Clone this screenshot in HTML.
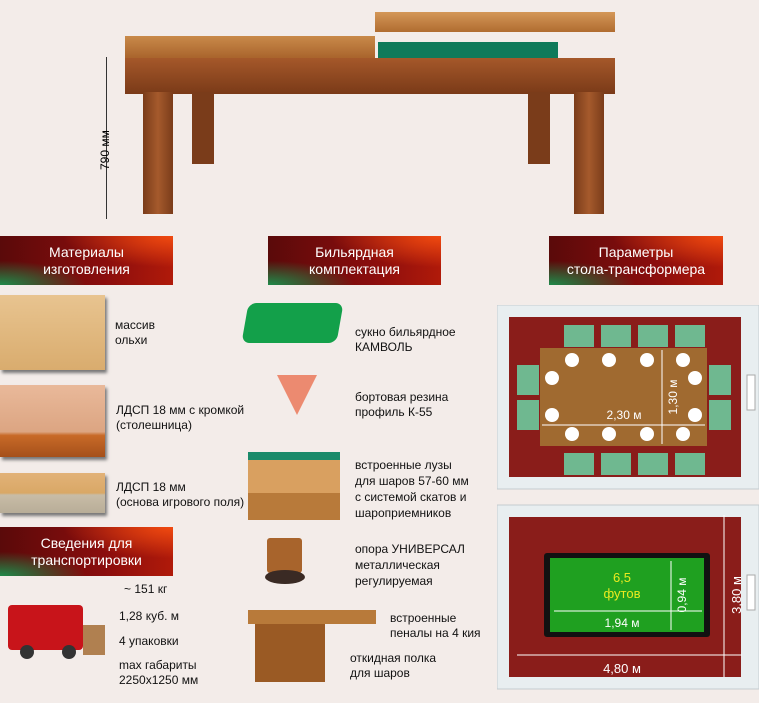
<!DOCTYPE html>
<html><head><meta charset="utf-8"><style>
body{margin:0;width:759px;height:703px;background:#f3ece9;position:relative;overflow:hidden;font-family:"Liberation Sans",Arial,sans-serif;}
.a{position:absolute}
.h{position:absolute;height:49px;width:173px;color:#fff;font-size:14px;line-height:17px;text-align:center;display:flex;align-items:center;justify-content:center;
background:radial-gradient(ellipse at 100% 0%,#f04a10 0%,rgba(200,40,10,0) 45%),radial-gradient(ellipse at 0% 100%,#1f8a4a 0%,rgba(30,120,60,0) 35%),linear-gradient(90deg,#5a0a0a,#8a0d0d 60%,#b01a0a);}
.t{position:absolute;font-size:12px;line-height:15px;color:#111}
.wood{background:linear-gradient(180deg,#e8c490,#d9ac6e)}
</style></head><body>
<!-- top table -->
<div class="a" style="left:125px;top:36px;width:250px;height:22px;background:linear-gradient(#c98a4a,#a9642c)"></div>
<div class="a" style="left:375px;top:12px;width:240px;height:20px;background:linear-gradient(#d49758,#b06c30)"></div>
<div class="a" style="left:378px;top:42px;width:180px;height:16px;background:#0f7a5a"></div>
<div class="a" style="left:125px;top:58px;width:490px;height:36px;background:linear-gradient(#a5582a,#7a3a18)"></div>
<div class="a" style="left:143px;top:92px;width:30px;height:122px;background:linear-gradient(90deg,#7a3c1a,#a55a2c,#7a3c1a)"></div>
<div class="a" style="left:192px;top:92px;width:22px;height:72px;background:#7a3c1a"></div>
<div class="a" style="left:528px;top:92px;width:22px;height:72px;background:#7a3c1a"></div>
<div class="a" style="left:574px;top:92px;width:30px;height:122px;background:linear-gradient(90deg,#7a3c1a,#a55a2c,#7a3c1a)"></div>
<div class="a" style="left:106px;top:57px;width:1px;height:162px;background:#333"></div>
<div class="a" style="left:98px;top:128px;transform:rotate(-90deg);font-size:12px;white-space:nowrap;transform-origin:left top;top:170px">790 мм</div>
<!-- headers -->
<div class="h" style="left:0;top:236px">Материалы<br>изготовления</div>
<div class="h" style="left:268px;top:236px">Бильярдная<br>комплектация</div>
<div class="h" style="left:549px;top:236px;width:174px">Параметры<br>стола-трансформера</div>
<div class="h" style="left:0;top:527px">Сведения для<br>транспортировки</div>
<!-- materials -->
<div class="a wood" style="left:0;top:295px;width:105px;height:75px;box-shadow:2px 3px 3px #777"></div>
<div class="t" style="left:115px;top:318px">массив<br>ольхи</div>
<div class="a" style="left:0;top:385px;width:105px;height:72px;background:linear-gradient(#e9b99a 0%,#dca582 65%,#c86a28 70%,#a5501a 100%);box-shadow:2px 3px 3px #777"></div>
<div class="t" style="left:116px;top:403px">ЛДСП 18 мм с кромкой<br>(столешница)</div>
<div class="a" style="left:0;top:473px;width:105px;height:40px;background:linear-gradient(#e2b278 0%,#d9a866 50%,#c8bca6 55%,#b8ad98 100%);box-shadow:2px 3px 3px #777"></div>
<div class="t" style="left:116px;top:480px">ЛДСП 18 мм<br>(основа игрового поля)</div>
<!-- billiard items -->
<div class="a" style="left:245px;top:303px;width:95px;height:40px;background:#13a04a;border-radius:8px;transform:skewX(-10deg)"></div>
<div class="t" style="left:355px;top:325px">сукно бильярдное<br>КАМВОЛЬ</div>
<div class="a" style="left:277px;top:375px;width:0;height:0;border-left:20px solid transparent;border-right:20px solid transparent;border-top:40px solid #ec8a70"></div>
<div class="t" style="left:355px;top:390px">бортовая резина<br>профиль К-55</div>
<div class="a" style="left:248px;top:452px;width:92px;height:68px;background:linear-gradient(#1a8a6a 0 12%,#d9a060 12% 60%,#b87a3a 60%)"></div>
<div class="t" style="left:355px;top:457px;line-height:16px">встроенные лузы<br>для шаров 57-60 мм<br>с системой скатов и<br>шароприемников</div>
<div class="a" style="left:267px;top:538px;width:35px;height:35px;background:#a8642c;border-radius:3px"></div>
<div class="a" style="left:265px;top:570px;width:40px;height:14px;background:#3a2a24;border-radius:50%"></div>
<div class="t" style="left:355px;top:541px;line-height:16px">опора УНИВЕРСАЛ<br>металлическая<br>регулируемая</div>
<div class="a" style="left:248px;top:610px;width:128px;height:14px;background:#b87a3a"></div>
<div class="a" style="left:255px;top:624px;width:70px;height:58px;background:#9a5a24"></div>
<div class="t" style="left:390px;top:611px">встроенные<br>пеналы на 4 кия</div>
<div class="t" style="left:350px;top:651px">откидная полка<br>для шаров</div>
<!-- transport -->
<div class="a" style="left:8px;top:605px;width:75px;height:45px;background:#c8141a;border-radius:4px"></div>
<div class="a" style="left:20px;top:645px;width:14px;height:14px;background:#333;border-radius:50%"></div>
<div class="a" style="left:62px;top:645px;width:14px;height:14px;background:#333;border-radius:50%"></div>
<div class="a" style="left:83px;top:625px;width:22px;height:30px;background:#b08050"></div>
<div class="t" style="left:124px;top:582px">~ 151 кг</div>
<div class="t" style="left:119px;top:609px">1,28 куб. м</div>
<div class="t" style="left:119px;top:634px">4 упаковки</div>
<div class="t" style="left:119px;top:658px">max габариты<br>2250х1250 мм</div>
<!-- rooms -->
<svg class="a" style="left:497px;top:305px" width="262" height="398" font-family="Liberation Sans,Arial,sans-serif">
<rect x="0" y="0" width="262" height="184" fill="#e8eef0" stroke="#c4ccd0"/>
<rect x="12" y="12" width="232" height="160" fill="#8a1d1a"/>
<rect x="250" y="70" width="8" height="35" fill="#fff" stroke="#aaa"/>
<g fill="#6fb890"><rect x="67" y="20" width="30" height="22"/><rect x="104" y="20" width="30" height="22"/><rect x="141" y="20" width="30" height="22"/><rect x="178" y="20" width="30" height="22"/>
<rect x="67" y="148" width="30" height="22"/><rect x="104" y="148" width="30" height="22"/><rect x="141" y="148" width="30" height="22"/><rect x="178" y="148" width="30" height="22"/>
<rect x="20" y="60" width="22" height="30"/><rect x="20" y="95" width="22" height="30"/><rect x="212" y="60" width="22" height="30"/><rect x="212" y="95" width="22" height="30"/></g>
<rect x="43" y="43" width="167" height="98" fill="#a06a30"/>
<g fill="#fff"><circle cx="75" cy="55" r="7"/><circle cx="112" cy="55" r="7"/><circle cx="150" cy="55" r="7"/><circle cx="186" cy="55" r="7"/>
<circle cx="75" cy="129" r="7"/><circle cx="112" cy="129" r="7"/><circle cx="150" cy="129" r="7"/><circle cx="186" cy="129" r="7"/>
<circle cx="55" cy="73" r="7"/><circle cx="55" cy="110" r="7"/><circle cx="198" cy="73" r="7"/><circle cx="198" cy="110" r="7"/></g>
<line x1="45" y1="120" x2="208" y2="120" stroke="#fff"/><line x1="165" y1="45" x2="165" y2="139" stroke="#fff"/>
<text x="127" y="114" fill="#fff" font-size="12" text-anchor="middle">2,30 м</text>
<text transform="translate(180,92) rotate(-90)" fill="#fff" font-size="12" text-anchor="middle">1,30 м</text>
<rect x="0" y="200" width="262" height="184" fill="#e8eef0" stroke="#c4ccd0"/>
<rect x="12" y="212" width="232" height="160" fill="#8a1d1a"/>
<rect x="250" y="270" width="8" height="35" fill="#fff" stroke="#aaa"/>
<rect x="47" y="248" width="166" height="84" fill="#111" rx="3"/>
<rect x="53" y="253" width="154" height="74" fill="#1fa020"/>
<text x="125" y="277" fill="#eaea20" font-size="13" text-anchor="middle">6,5</text>
<text x="125" y="293" fill="#eaea20" font-size="13" text-anchor="middle">футов</text>
<line x1="57" y1="306" x2="205" y2="306" stroke="#fff"/><line x1="174" y1="256" x2="174" y2="325" stroke="#fff"/>
<text x="125" y="322" fill="#fff" font-size="12" text-anchor="middle">1,94 м</text>
<text transform="translate(189,290) rotate(-90)" fill="#fff" font-size="12" text-anchor="middle">0,94 м</text>
<line x1="20" y1="350" x2="245" y2="350" stroke="#fff"/><line x1="227" y1="210" x2="227" y2="372" stroke="#fff"/>
<text x="125" y="368" fill="#fff" font-size="13" text-anchor="middle">4,80 м</text>
<text transform="translate(244,290) rotate(-90)" fill="#fff" font-size="13" text-anchor="middle">3,80 м</text>
</svg>
</body></html>
